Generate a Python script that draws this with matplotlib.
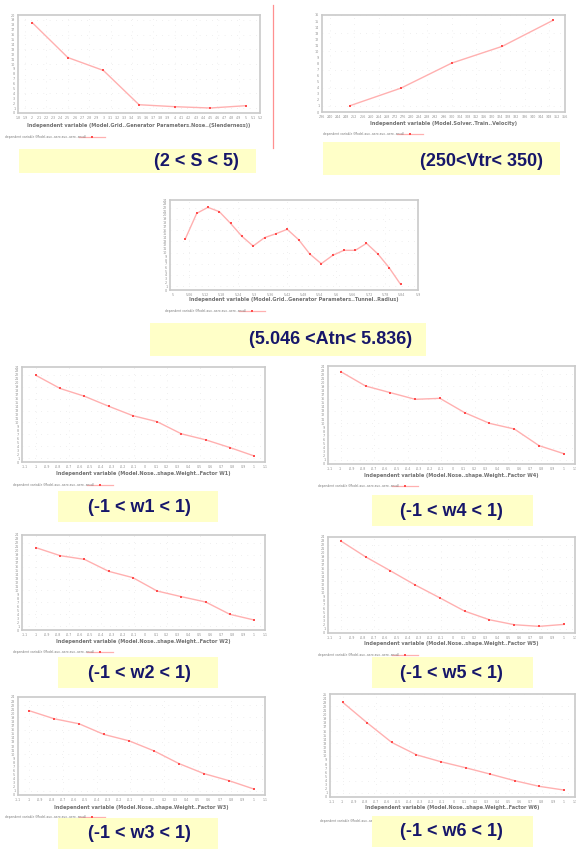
"""
Nine sensitivity sweeps (aero output vs. one model parameter each),
laid out like the original slide with yellow range captions.
"""
import matplotlib; matplotlib.use('Agg')
import matplotlib.pyplot as plt
from matplotlib.patches import Rectangle
from matplotlib.lines import Line2D
import numpy as np

W, H = 576, 851

# ---- data ----
s_x = [2.0, 2.5, 3.0, 3.5, 4.0, 4.5, 5.0]
s_y = [18.44, 11.32, 8.68, 1.69, 1.29, 1.02, 1.49]

vtr_x = [250, 275, 300, 325, 350]
vtr_y = [1.06, 3.94, 8.06, 10.83, 15.11]

atn_x = [5.046, 5.088, 5.129, 5.171, 5.212, 5.254, 5.295, 5.337, 5.379, 5.420,
         5.462, 5.503, 5.545, 5.587, 5.628, 5.670, 5.711, 5.753, 5.794, 5.836]
atn_y = [13.6, 20.44, 22.04, 20.89, 17.78, 14.31, 11.73, 13.96, 15.02, 16.18,
         13.42, 9.6, 7.02, 9.24, 10.58, 10.58, 12.44, 9.6, 5.96, 1.51]

w_x = [-1.0, -0.778, -0.556, -0.333, -0.111, 0.111, 0.333, 0.556, 0.778, 1.0]
w1_y = [21.88, 18.57, 16.62, 14.08, 11.70, 10.18, 7.12, 5.60, 3.65, 1.53]
w4_y = [22.61, 19.10, 17.47, 15.84, 16.08, 12.57, 9.96, 8.57, 4.49, 2.53]
w2_y = [20.80, 18.78, 17.85, 14.82, 13.22, 9.85, 8.42, 7.07, 3.96, 2.53]
w5_y = [23.01, 19.04, 15.56, 12.00, 8.77, 5.46, 3.31, 2.07, 1.66, 2.15]
w3_y = [20.64, 18.67, 17.44, 14.82, 13.27, 10.81, 7.70, 5.24, 3.52, 1.47]
w6_y = [22.98, 17.98, 13.23, 10.24, 8.55, 7.10, 5.56, 3.95, 2.58, 1.69]

captions = ['(2 < S < 5)', '(250<Vtr< 350)', '(5.046 <Atn< 5.836)',
            '(-1 < w1 < 1)', '(-1 < w4 < 1)', '(-1 < w2 < 1)',
            '(-1 < w5 < 1)', '(-1 < w3 < 1)', '(-1 < w6 < 1)']
xlabels = ['Independent variable (Model.Grid..Generator Parameters.Nose..(Slenderness))',
           'Independent variable (Model.Solver..Train..Velocity)',
           'Independent variable (Model.Grid..Generator Parameters..Tunnel..Radius)',
           'Independent variable (Model.Nose..shape.Weight..Factor W1)',
           'Independent variable (Model.Nose..shape.Weight..Factor W4)',
           'Independent variable (Model.Nose..shape.Weight..Factor W2)',
           'Independent variable (Model.Nose..shape.Weight..Factor W5)',
           'Independent variable (Model.Nose..shape.Weight..Factor W3)',
           'Independent variable (Model.Nose..shape.Weight..Factor W6)']
legend_txt = 'dependent variable (Model.aux..aero.aux..aero..ancd)'

LINE = '#ffb0b0'
MARK = '#ff4d4d'
NAVY = '#16166a'
YELLOW = '#ffffc8'

fig = plt.figure(figsize=(W / 100, H / 100), dpi=100)
fig.patch.set_facecolor('white')


def fx(x):
    return x / W


def fy(y):
    return 1 - y / H


def panel(box, xs, ys, xlim, ylim, xticks, yticks, xlabel, xlab_y, leg, ybox, cap, cap_xy):
    x0, y0, x1, y1 = box
    ax = fig.add_axes([fx(x0), fy(y1), (x1 - x0) / W, (y1 - y0) / H])
    ax.plot(xs, ys, color=LINE, lw=1.0, zorder=2)
    ax.plot(xs, ys, 's', color=MARK, ms=1.6, mew=0, zorder=3)
    ax.set_xlim(*xlim)
    ax.set_ylim(*ylim)
    ax.set_xticks(xticks)
    ax.set_yticks(yticks)
    ax.set_xticklabels([f'{t:g}' for t in xticks], fontsize=2.3, color='#909090')
    ax.set_yticklabels([f'{t:g}' for t in yticks], fontsize=2.4, color='#909090')
    ax.tick_params(length=0, pad=2)
    # sparse dotted grid, every third tick
    for t in xticks[1::3]:
        ax.axvline(t, color='#e2e2e2', lw=0.5, ls=(0, (1, 8)), zorder=1)
    for t in yticks[1::3]:
        ax.axhline(t, color='#e2e2e2', lw=0.5, ls=(0, (1, 8)), zorder=1)
    for sp in ax.spines.values():
        sp.set_color('#cacaca')
        sp.set_linewidth(1.2)
    # x label
    fig.text(fx((x0 + x1) / 2), fy(xlab_y), xlabel, fontsize=3.6, color='#707070',
             fontweight='bold', ha='center', va='center')
    # legend
    lx, ly = leg
    fig.text(fx(lx), fy(ly), legend_txt, fontsize=2.2, color='#7a7a7a',
             ha='left', va='center')
    fig.add_artist(Line2D([fx(lx + 74), fx(lx + 100)], [fy(ly), fy(ly)],
                          color=LINE, lw=0.9, transform=fig.transFigure))
    fig.add_artist(Line2D([fx(lx + 87)], [fy(ly)], marker='s', ms=1.6, mew=0,
                          color=MARK, transform=fig.transFigure))
    # yellow caption box
    bx0, by0, bx1, by1 = ybox
    fig.add_artist(Rectangle((fx(bx0), fy(by1)), (bx1 - bx0) / W, (by1 - by0) / H,
                             facecolor=YELLOW, edgecolor='none',
                             transform=fig.transFigure, zorder=5))
    fig.text(fx(cap_xy[0]), fy(cap_xy[1]), cap, fontsize=13, fontweight='bold',
             color=NAVY, family='Liberation Sans', ha='center', va='center', zorder=6)
    return ax


w_xt = np.round(np.arange(-1.1, 1.101, 0.1), 2)
w_yt = np.arange(0, 25, 1)

panel((18, 15, 260, 113), s_x, s_y, (1.8, 5.2), (0, 20),
      np.round(np.arange(1.8, 5.201, 0.1), 1), np.arange(0, 21, 1),
      xlabels[0], 126, (5, 137), (19, 149, 256, 173), captions[0], (196, 161))

panel((322, 15, 565, 112), vtr_x, vtr_y, (236, 356), (0, 16),
      np.arange(236, 357, 4), np.arange(0, 17, 1),
      xlabels[1], 123, (323, 134), (323, 142, 560, 175), captions[1], (482, 161))

panel((170, 200, 418, 290), atn_x, atn_y, (4.99, 5.893), (0, 24),
      np.round(np.arange(5.0, 5.9, 0.06), 2), np.arange(0, 25, 1),
      xlabels[2], 300, (165, 311), (150, 323, 426, 356), captions[2], (331, 340))

panel((22, 367, 265, 462), w_x, w1_y, (-1.128, 1.097), (0, 24), w_xt, w_yt,
      xlabels[3], 473, (13, 485), (58, 491, 218, 522), captions[3], (139, 507))

panel((328, 366, 575, 464), w_x, w4_y, (-1.115, 1.074), (0, 24), w_xt, w_yt,
      xlabels[4], 475, (318, 486), (372, 495, 533, 526), captions[4], (451, 511))

panel((22, 535, 265, 630), w_x, w2_y, (-1.128, 1.097), (0, 24), w_xt, w_yt,
      xlabels[5], 642, (13, 652), (58, 657, 218, 688), captions[5], (139, 673))

panel((328, 537, 575, 633), w_x, w5_y, (-1.115, 1.074), (0, 24), w_xt, w_yt,
      xlabels[6], 643, (318, 655), (372, 657, 533, 688), captions[6], (451, 673))

panel((18, 697, 265, 795), w_x, w3_y, (-1.1, 1.1), (0, 24), w_xt, w_yt,
      xlabels[7], 807, (5, 817), (58, 818, 218, 849), captions[7], (139, 834))

panel((330, 694, 575, 797), w_x, w6_y, (-1.115, 1.074), (0, 25), w_xt, np.arange(0, 26, 1),
      xlabels[8], 808, (320, 821), (372, 816, 533, 847), captions[8], (451, 832))

# thin red divider at the top of the slide
fig.add_artist(Line2D([fx(273), fx(273)], [fy(5), fy(148)], color='#ff9090', lw=0.9,
                      transform=fig.transFigure))

fig.savefig('out.png', dpi=100)
